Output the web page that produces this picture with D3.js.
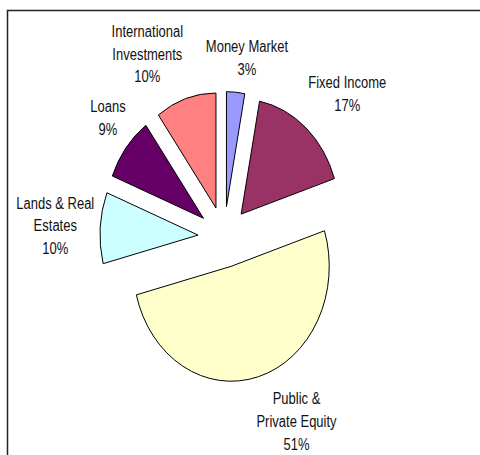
<!DOCTYPE html>
<html>
<head>
<meta charset="utf-8">
<script src="https://cdn.jsdelivr.net/npm/d3@7/dist/d3.min.js"></script>
<style>
  html, body { margin: 0; padding: 0; background: #fff; }
  svg { display: block; }
</style>
</head>
<body>
<svg id="chart" width="480" height="455"></svg>
<script>
// ---- data ----
const categories = ["Money Market", "Fixed Income", "Public & Private Equity", "Lands & Real Estates", "Loans", "International Investments"];
const values = [3, 17, 51, 10, 9, 10];
const labelNameLines = [["Money Market"], ["Fixed Income"], ["Public &", "Private Equity"], ["Lands & Real", "Estates"], ["Loans"], ["International", "Investments"]];
const colors = ["#9999FF", "#993366", "#FFFFCC", "#CCFFFF", "#660066", "#FF8080"];

// ---- layout ----
const W = 480, H = 455;
const cx = 224, cy = 237;
const radius = 98;        // circle-space radius
const yStretch = 1.173;   // vertical stretch of the plot
const explode = 26;
const labelR = 138;
const lineH = 22.7;
const fontSize = 13;
const labelNudge = [[10, -18], [32, -22], [34, 29], [-31, -1], [-7, -20], [-34, -29]];

const svg = d3.select("#chart");

// frame
svg.append("path")
  .attr("d", `M7.5,${H} V10.5 H${W}`)
  .attr("fill", "none")
  .attr("stroke", "#222")
  .attr("stroke-width", 1.5);

const pie = d3.pie().sort(null).value(d => d).startAngle(0).endAngle(2 * Math.PI);
const arcs = pie(values);
const arc = d3.arc().innerRadius(0).outerRadius(radius);

const g = svg.append("g")
  .attr("transform", `translate(${cx},${cy}) scale(1,${yStretch})`);

g.selectAll("path.slice")
  .data(arcs)
  .join("path")
  .attr("class", "slice")
  .attr("d", arc)
  .attr("transform", d => {
    const m = (d.startAngle + d.endAngle) / 2;
    return `translate(${explode * Math.sin(m)},${-explode * Math.cos(m)})`;
  })
  .attr("fill", (d, i) => colors[i])
  .attr("stroke", "#000")
  .attr("stroke-width", 1)
  .attr("vector-effect", "non-scaling-stroke")
  .attr("stroke-linejoin", "round");

// labels
const labels = svg.append("g")
  .attr("font-family", "'Liberation Sans', Arial, sans-serif")
  .attr("font-size", fontSize)
  .attr("fill", "#111")
  .attr("text-anchor", "middle");

arcs.forEach((d, i) => {
  const m = (d.startAngle + d.endAngle) / 2;
  const ax = cx + labelR * Math.sin(m) + labelNudge[i][0];
  const ay = cy - labelR * Math.cos(m) * yStretch + labelNudge[i][1];
  const lines = labelNameLines[i].concat([values[i] + "%"]);
  const n = lines.length;
  lines.forEach((t, j) => {
    const ly = ay + (j - (n - 1) / 2) * lineH;
    labels.append("text")
      .attr("transform", `translate(${ax},${ly}) scale(1,1.2)`)
      .attr("y", 0.716 * fontSize / 2)
      .text(t);
  });
});
</script>
</body>
</html>
